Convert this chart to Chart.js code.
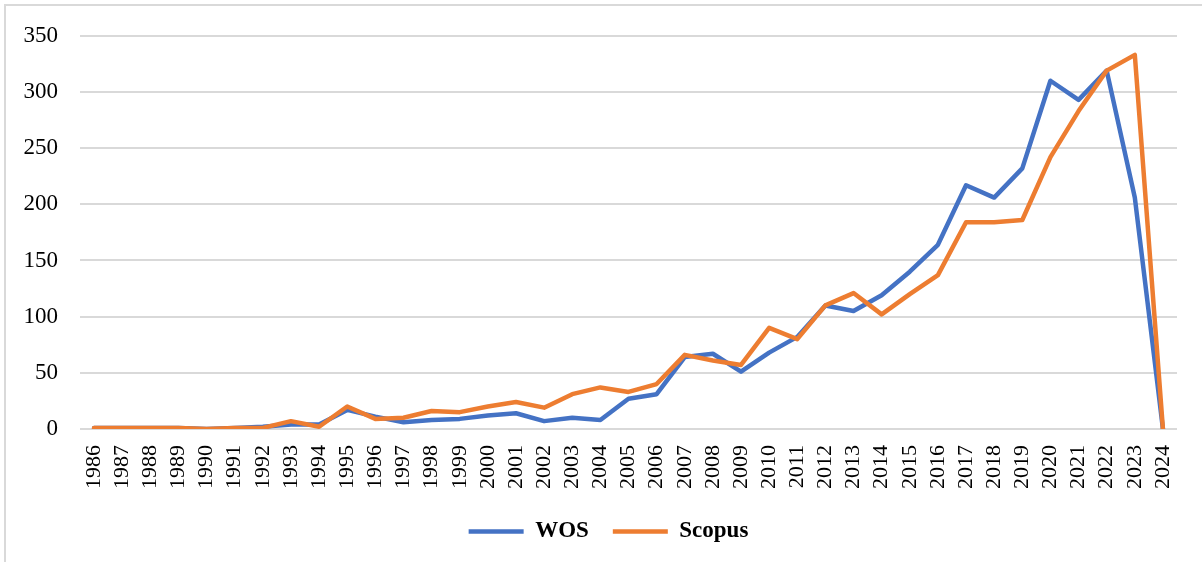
<!DOCTYPE html>
<html>
<head>
<meta charset="utf-8">
<script src="https://cdn.jsdelivr.net/npm/chart.js@4.4.1/dist/chart.umd.min.js"></script>
<style>
  html, body { margin: 0; padding: 0; background: #fff; overflow: hidden; }
  #wrap { position: absolute; left: 0; top: 0; width: 1202px; height: 562px; }
  #frame { position: absolute; left: 4px; top: 4px; width: 1240px; height: 600px; border: 2px solid #d9d9d9; box-sizing: border-box; }
</style>
</head>
<body>
<div id="frame"></div>
<div id="wrap"><canvas id="chart"></canvas></div>
<script>
const years = [
  "1986", "1987", "1988", "1989", "1990", "1991", "1992", "1993", "1994", "1995",
  "1996", "1997", "1998", "1999", "2000", "2001", "2002", "2003", "2004", "2005",
  "2006", "2007", "2008", "2009", "2010", "2011", "2012", "2013", "2014", "2015",
  "2016", "2017", "2018", "2019", "2020", "2021", "2022", "2023", "2024"
];
const wos = [
  1, 1, 1, 1, 0, 1, 2, 4, 4, 17,
  11, 6, 8, 9, 12, 14, 7, 10, 8, 27,
  31, 64, 67, 51, 68, 82, 110, 105, 119, 140,
  164, 217, 206, 232, 310, 293, 319, 206, 0
];
const scopus = [
  1, 1, 1, 1, 0, 1, 1, 7, 2, 20,
  9, 10, 16, 15, 20, 24, 19, 31, 37, 33,
  40, 66, 61, 57, 90, 80, 110, 121, 102, 120,
  137, 184, 184, 186, 242, 283, 319, 333, 0
];
const yTicks = [0, 50, 100, 150, 200, 250, 300, 350];

const serif = '"Liberation Serif", "Times New Roman", serif';
const gridColor = "#d9d9d9";

// legend sits a bit right of the canvas centre in the original
const nudgeLegend = {
  id: "nudgeLegend",
  afterLayout(chart) {
    if (chart.legend) {
      chart.legend.left += 20;
      chart.legend.right += 20;
    }
  },
};

new Chart(document.getElementById("chart"), {
  type: "line",
  data: {
    labels: years,
    datasets: [
      {
        label: "WOS",
        data: wos,
        borderColor: "#4472c4",
        backgroundColor: "#4472c4",
        borderWidth: 4.5,
        borderCapStyle: "round",
        borderJoinStyle: "round",
        pointRadius: 0,
        tension: 0,
        order: 2,
      },
      {
        label: "Scopus",
        data: scopus,
        borderColor: "#ed7d31",
        backgroundColor: "#ed7d31",
        borderWidth: 4.5,
        borderCapStyle: "round",
        borderJoinStyle: "round",
        pointRadius: 0,
        tension: 0,
        order: 1,
      },
    ],
  },
  options: {
    responsive: true,
    maintainAspectRatio: false,
    animation: false,
    layout: { padding: { left: 0, right: 25, top: 34, bottom: 9 } },
    plugins: {
      legend: {
        position: "bottom",
        labels: {
          usePointStyle: true,
          pointStyle: "line",
          pointStyleWidth: 55,
          boxHeight: 20,
          padding: 24,
          color: "#000",
          font: { family: serif, size: 23, weight: "bold" },
          sort: (a, b) => a.datasetIndex - b.datasetIndex,
        },
      },
      tooltip: { enabled: false },
    },
    scales: {
      x: {
        offset: true,
        grid: { display: false },
        border: { display: false },
        ticks: {
          color: "#000",
          font: { family: serif, size: 22 },
          minRotation: 90,
          maxRotation: 90,
          autoSkip: false,
          padding: 8,
        },
        afterFit: (scale) => { scale.height = 67; },
      },
      y: {
        min: 0,
        max: 350,
        afterBuildTicks: (scale) => { scale.ticks = yTicks.map((v) => ({ value: v })); },
        grid: { color: gridColor, lineWidth: 2, drawTicks: false },
        border: { display: false },
        ticks: {
          color: "#000",
          font: { family: serif, size: 23 },
          padding: 22,
        },
        afterFit: (scale) => { scale.width = 80; },
      },
    },
  },
  plugins: [nudgeLegend],
});
</script>
</body>
</html>
